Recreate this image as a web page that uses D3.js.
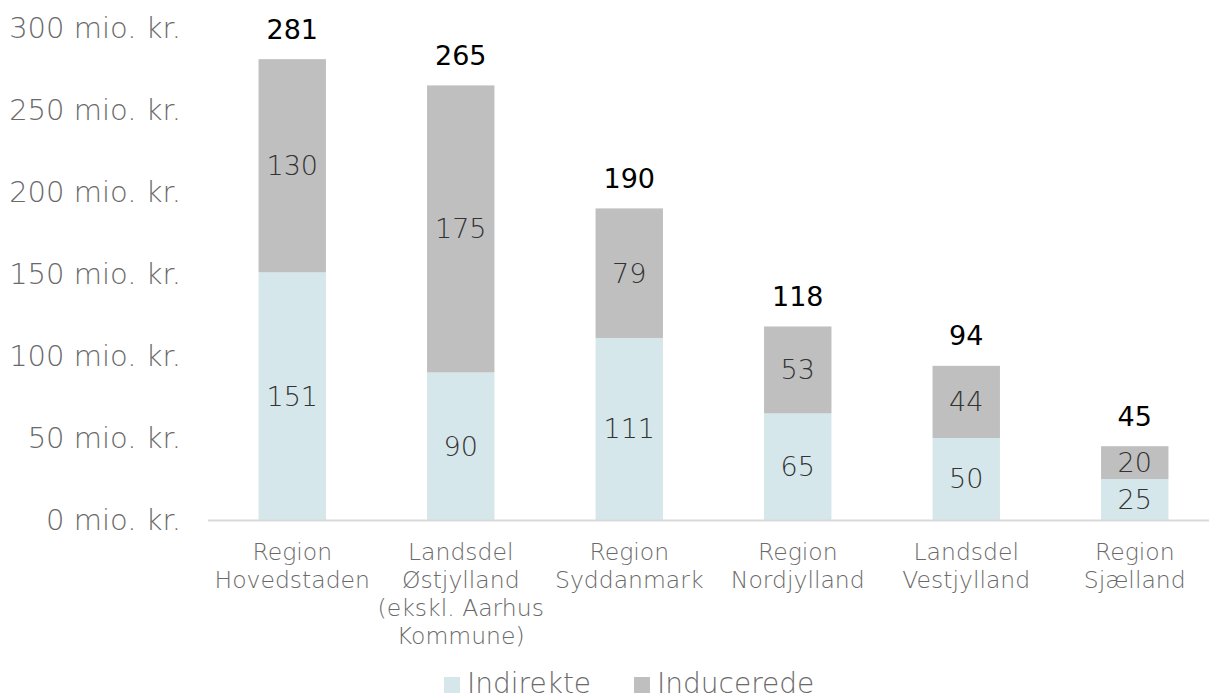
<!DOCTYPE html>
<html>
<head>
<meta charset="utf-8">
<script src="https://cdn.jsdelivr.net/npm/d3@7"></script>
<style>
  body { margin: 0; background: #fff; }
  svg text { font-family: "DejaVu Sans", sans-serif; font-weight: 200; }
</style>
</head>
<body>
<div id="chart"></div>
<script>
// data
const categories = [
  ['Region', 'Hovedstaden'],
  ['Landsdel', 'Østjylland', '(ekskl. Aarhus', 'Kommune)'],
  ['Region', 'Syddanmark'],
  ['Region', 'Nordjylland'],
  ['Landsdel', 'Vestjylland'],
  ['Region', 'Sjælland']
];
const indirekte = [151, 90, 111, 65, 50, 25];
const inducerede = [130, 175, 79, 53, 44, 20];
const totals = [281, 265, 190, 118, 94, 45];
const yTicks = [0, 50, 100, 150, 200, 250, 300];
const seriesNames = ['Indirekte', 'Inducerede'];
const colors = ['#d6e7eb', '#bfbfbf'];

const width = 1209, height = 700;
const svg = d3.select('#chart').append('svg').attr('width', width).attr('height', height);

const x = d3.scaleBand().domain(d3.range(categories.length)).range([208, 1219]).paddingInner(0.6).paddingOuter(0.3);
const y = d3.scaleLinear().domain([0, 300]).range([520, 28]);

// y axis labels
const yAxis = d3.axisLeft(y).tickValues(yTicks).tickSize(0).tickPadding(0).tickFormat(d => d + ' mio. kr.');
svg.append('g').attr('transform', 'translate(181,0)').call(yAxis)
  .call(g => g.select('.domain').remove())
  .selectAll('text').attr('fill', '#6a6a6a').style('font-size', '29px')
  .style('font-family', '"DejaVu Sans", sans-serif').style('font-weight', 200);

// stacked bars
const rows = categories.map((c, i) => ({ i, Indirekte: indirekte[i], Inducerede: inducerede[i] }));
const stack = d3.stack().keys(seriesNames)(rows);

stack.forEach((layer, k) => {
  const g = svg.append('g');
  g.selectAll('rect').data(layer).enter().append('rect')
    .attr('x', d => x(d.data.i))
    .attr('width', x.bandwidth())
    .attr('y', d => y(d[1]))
    .attr('height', d => y(d[0]) - y(d[1]))
    .attr('fill', colors[k]);
  g.selectAll('text').data(layer).enter().append('text')
    .attr('x', d => x(d.data.i) + x.bandwidth() / 2)
    .attr('y', d => (y(d[0]) + y(d[1])) / 2)
    .attr('dy', '0.35em')
    .attr('text-anchor', 'middle')
    .attr('fill', '#333')
    .style('font-size', '27px')
    .text(d => d[1] - d[0]);
});

// axis line
svg.append('line').attr('x1', 208).attr('x2', 1219).attr('y1', 520.5).attr('y2', 520.5)
  .attr('stroke', '#d9d9d9').attr('stroke-width', 2);

// totals
svg.append('g').selectAll('text').data(totals).enter().append('text')
  .attr('x', (d, i) => x(i) + x.bandwidth() / 2)
  .attr('y', d => y(d) - 30)
  .attr('dy', '0.35em')
  .attr('text-anchor', 'middle')
  .attr('fill', '#000')
  .style('font-size', '27px')
  .style('font-weight', 'normal')
  .text(d => d);

// category labels
const cat = svg.append('g').selectAll('text').data(categories).enter().append('text')
  .attr('text-anchor', 'middle')
  .attr('fill', '#6a6a6a')
  .style('font-size', '23.5px');
cat.selectAll('tspan').data((d, i) => d.map(line => ({ line, i }))).enter().append('tspan')
  .attr('x', d => x(d.i) + x.bandwidth() / 2)
  .attr('y', (d, j) => 552 + j * 28)
  .attr('dy', '0.35em')
  .text(d => d.line);

// legend
const legendX = [444, 634];
const legend = svg.append('g').selectAll('g').data(seriesNames).enter().append('g')
  .attr('transform', (d, i) => `translate(${legendX[i]},683)`);
legend.append('rect').attr('x', 0).attr('y', -6).attr('width', 16).attr('height', 16)
  .attr('fill', (d, i) => colors[i]);
legend.append('text').attr('x', 23).attr('dy', '0.35em').attr('fill', '#6a6a6a')
  .style('font-size', '28px').text(d => d);
</script>
</body>
</html>
